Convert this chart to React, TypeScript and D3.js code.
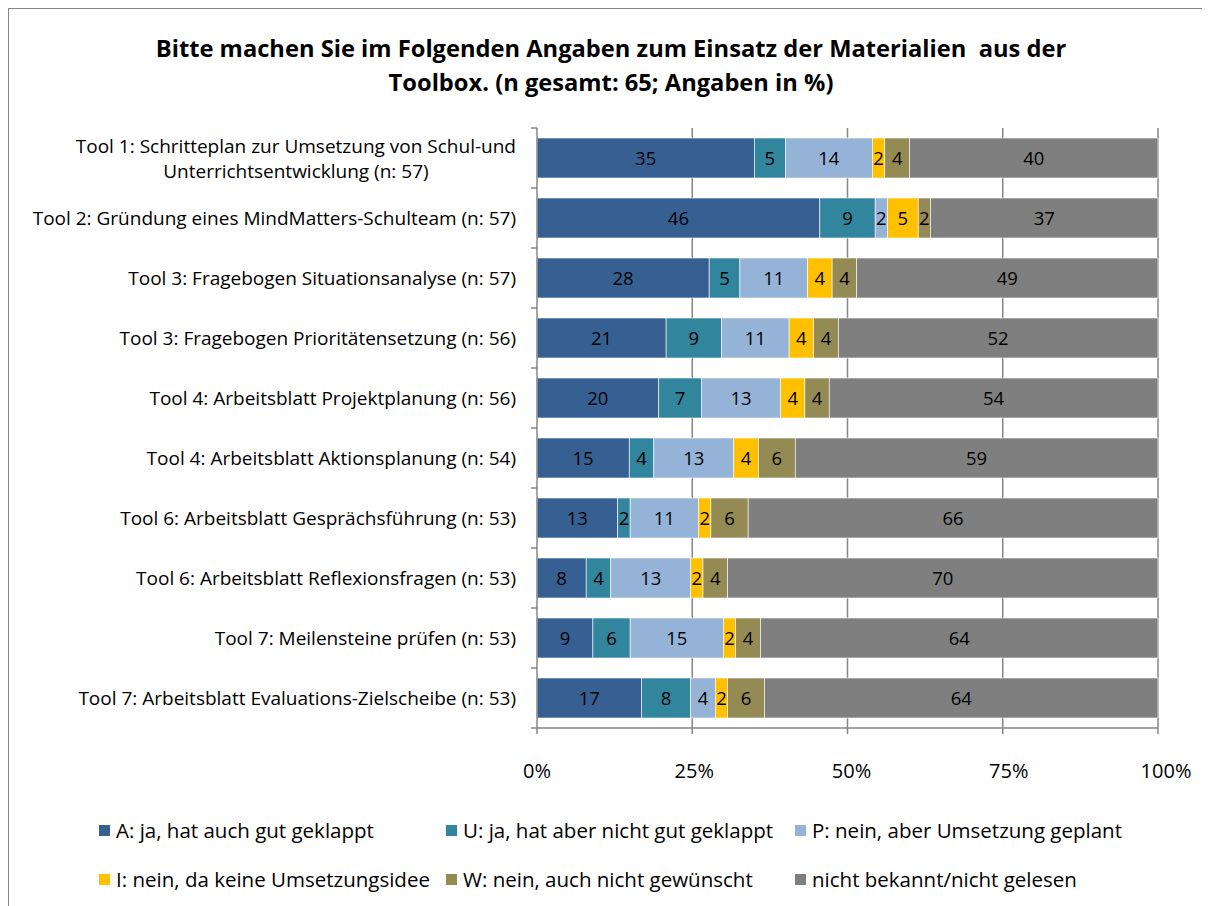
import * as d3 from "d3";
import { useEffect, useRef } from "react";

const categories = [
  ["Tool 1: Schritteplan zur Umsetzung von Schul-und", "Unterrichtsentwicklung (n: 57)"],
  ["Tool 2: Gründung eines MindMatters-Schulteam (n: 57)"],
  ["Tool 3: Fragebogen Situationsanalyse (n: 57)"],
  ["Tool 3: Fragebogen Prioritätensetzung (n: 56)"],
  ["Tool 4: Arbeitsblatt Projektplanung (n: 56)"],
  ["Tool 4: Arbeitsblatt Aktionsplanung (n: 54)"],
  ["Tool 6: Arbeitsblatt Gesprächsführung (n: 53)"],
  ["Tool 6: Arbeitsblatt Reflexionsfragen (n: 53)"],
  ["Tool 7: Meilensteine prüfen (n: 53)"],
  ["Tool 7: Arbeitsblatt Evaluations-Zielscheibe (n: 53)"],
];

const seriesNames = [
  "A: ja, hat auch gut geklappt",
  "U: ja, hat aber nicht gut geklappt",
  "P: nein, aber Umsetzung geplant",
  "I: nein, da keine Umsetzungsidee",
  "W: nein, auch nicht gewünscht",
  "nicht bekannt/nicht gelesen",
];

const seriesColors = ["#376092", "#31859C", "#95B3D7", "#FFC000", "#948A54", "#7F7F7F"];

// values per category, in series order
const values = [
  [35, 5, 14, 2, 4, 40],
  [46, 9, 2, 5, 2, 37],
  [28, 5, 11, 4, 4, 49],
  [21, 9, 11, 4, 4, 52],
  [20, 7, 13, 4, 4, 54],
  [15, 4, 13, 4, 6, 59],
  [13, 2, 11, 2, 6, 66],
  [8, 4, 13, 2, 4, 70],
  [9, 6, 15, 2, 4, 64],
  [17, 8, 4, 2, 6, 64],
];

const xTicks = [0, 0.25, 0.5, 0.75, 1];
const title = [
  "Bitte machen Sie im Folgenden Angaben zum Einsatz der Materialien \u00a0aus der",
  "Toolbox. (n gesamt: 65; Angaben in %)",
];

const FONT = "'Open Sans', 'DejaVu Sans', sans-serif";

function Chart() {
  const ref = useRef<SVGSVGElement>(null);

  useEffect(() => {
    const left = 537, right = 1158, top = 128, bottom = 728;

    d3.select(ref.current).selectAll("*").remove();
    const svg = d3.select(ref.current)
      .append("g")
      .attr("transform", "translate(-8,-8)")
      .style("font-family", FONT);

    // outer frame
    svg.append("rect")
      .attr("x", 8.5).attr("y", 8.5)
      .attr("width", 1300).attr("height", 1000)
      .attr("fill", "white")
      .attr("stroke", "#868686");

    const x = d3.scaleLinear().domain([0, 1]).range([left, right]);
    const y = d3.scaleBand<number>()
      .domain(d3.range(categories.length))
      .range([top, bottom])
      .paddingInner(1 / 3)
      .paddingOuter(1 / 6);

    // gridlines
    svg.append("g")
      .selectAll("line")
      .data(xTicks.slice(1))
      .join("line")
      .attr("x1", (d) => x(d)).attr("x2", (d) => x(d))
      .attr("y1", top).attr("y2", bottom)
      .attr("stroke", "#868686")
      .attr("stroke-width", 1.5);

    // stacked, normalized bars
    const rows = values.map((v, i) => {
      const total = d3.sum(v);
      let acc = 0;
      return v.map((val, k) => {
        const x0 = acc / total;
        acc += val;
        return { i, k, val, x0, x1: acc / total };
      });
    });

    const bars = svg.append("g");
    bars.selectAll("rect")
      .data(rows.flat())
      .join("rect")
      .attr("x", (d) => x(d.x0))
      .attr("y", (d) => y(d.i)!)
      .attr("width", (d) => x(d.x1) - x(d.x0))
      .attr("height", y.bandwidth())
      .attr("fill", (d) => seriesColors[d.k])
      .attr("stroke", "white")
      .attr("stroke-width", 0.6);

    bars.selectAll("text")
      .data(rows.flat())
      .join("text")
      .attr("x", (d) => (x(d.x0) + x(d.x1)) / 2)
      .attr("y", (d) => y(d.i)! + y.bandwidth() / 2)
      .attr("dy", "0.36em")
      .attr("text-anchor", "middle")
      .attr("font-size", 18.5)
      .attr("fill", "#000")
      .text((d) => d.val);

    // left axis
    const ax = svg.append("g").attr("stroke", "#868686").attr("stroke-width", 1.5);
    ax.append("line").attr("x1", left).attr("x2", left).attr("y1", top).attr("y2", bottom);
    ax.selectAll("line.tick")
      .data(d3.range(categories.length + 1))
      .join("line")
      .attr("class", "tick")
      .attr("x1", left - 6).attr("x2", left)
      .attr("y1", (d) => top + d * y.step())
      .attr("y2", (d) => top + d * y.step());

    // bottom axis
    ax.append("line").attr("x1", left).attr("x2", right).attr("y1", bottom).attr("y2", bottom);
    ax.selectAll("line.xtick")
      .data(xTicks)
      .join("line")
      .attr("class", "xtick")
      .attr("x1", (d) => x(d)).attr("x2", (d) => x(d))
      .attr("y1", bottom).attr("y2", bottom + 6);

    svg.append("g")
      .selectAll("text")
      .data(xTicks)
      .join("text")
      .attr("x", (d) => x(d) + d * 8)
      .attr("y", 771)
      .attr("dy", "0.36em")
      .attr("text-anchor", "middle")
      .attr("font-size", 20)
      .text((d) => d3.format(".0%")(d));

    // category labels
    const catG = svg.append("g").attr("font-size", 19);
    categories.forEach((lines, i) => {
      const cy = y(i)! + y.bandwidth() / 2;
      if (lines.length === 1) {
        catG.append("text")
          .attr("x", 516).attr("y", cy).attr("dy", "0.36em")
          .attr("text-anchor", "end").text(lines[0]);
      } else {
        const t = catG.append("text")
          .attr("x", 516).attr("y", cy - 12).attr("dy", "0.36em")
          .attr("text-anchor", "end").text(lines[0]);
        const w = (t.node() as SVGTextElement).getComputedTextLength();
        catG.append("text")
          .attr("x", 516 - w / 2).attr("y", cy + 13).attr("dy", "0.36em")
          .attr("text-anchor", "middle").text(lines[1]);
      }
    });

    // title
    svg.append("g")
      .selectAll("text")
      .data(title)
      .join("text")
      .attr("x", 611)
      .attr("y", (_, i) => 48 + i * 34)
      .attr("dy", "0.36em")
      .attr("text-anchor", "middle")
      .attr("font-size", 23.7)
      .attr("font-weight", "bold")
      .text((d) => d);

    // legend
    const legX = [99, 446, 795];
    const legY = [831, 880];
    const leg = svg.append("g")
      .selectAll("g")
      .data(seriesNames)
      .join("g")
      .attr("transform", (_, k) => `translate(${legX[k % 3]},${legY[Math.floor(k / 3)]})`);
    leg.append("rect")
      .attr("x", 0).attr("y", -6)
      .attr("width", 11).attr("height", 11)
      .attr("fill", (_, k) => seriesColors[k]);
    leg.append("text")
      .attr("x", 17).attr("y", 0).attr("dy", "0.36em")
      .attr("font-size", 20.5)
      .text((d) => d);
  }, []);

  return <svg ref={ref} width={1202} height={898} style={{ display: "block" }} />;
}

export default function App() {
  return <Chart />;
}
